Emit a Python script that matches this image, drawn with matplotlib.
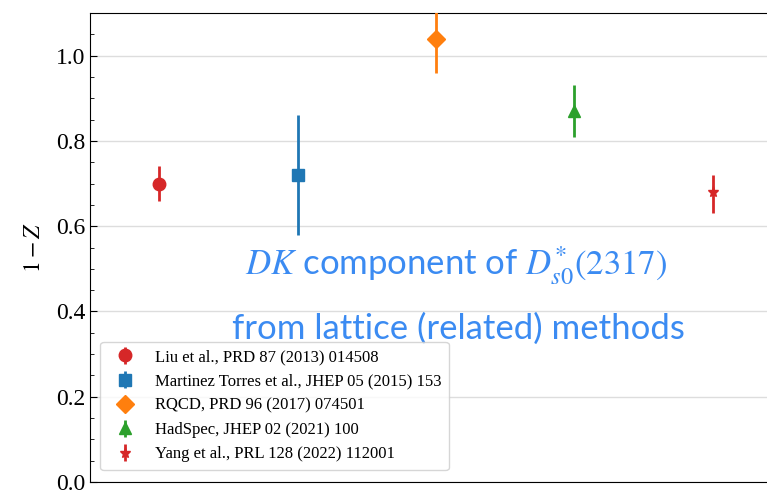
import matplotlib
matplotlib.use("Agg")
import matplotlib.pyplot as plt
from matplotlib.ticker import MultipleLocator

# results for 1 - Z, with lower / upper uncertainties
labels = [
    "Liu et al., PRD 87 (2013) 014508",
    "Martinez Torres et al., JHEP 05 (2015) 153",
    "RQCD, PRD 96 (2017) 074501",
    "HadSpec, JHEP 02 (2021) 100",
    "Yang et al., PRL 128 (2022) 112001",
]
values = [0.70, 0.72, 1.04, 0.87, 0.68]
err_lo = [0.04, 0.14, 0.08, 0.06, 0.05]
err_hi = [0.04, 0.14, 0.08, 0.06, 0.04]
markers = ["o", "s", "D", "^", "*"]
msizes = [9, 8, 9, 8, 8]
colors = ["#d62728", "#1f77b4", "#ff7f0e", "#2ca02c", "#d62728"]

plt.rcParams.update({
    "font.family": "serif",
    "font.serif": ["Liberation Serif", "DejaVu Serif"],
    "mathtext.fontset": "stix",
    "font.size": 17,
})

fig = plt.figure(figsize=(7.67, 4.91), dpi=100)
# the frame runs a little past the right edge of the canvas
ax = fig.add_axes([90 / 767, 9 / 491, 692 / 767, 469 / 491])

for i, (v, lo, hi) in enumerate(zip(values, err_lo, err_hi)):
    ax.errorbar(i, v, yerr=[[lo], [hi]], fmt=markers[i], color=colors[i],
                markersize=msizes[i], elinewidth=2, capsize=0,
                label=labels[i], zorder=3)

ax.set_xlim(-0.5, 4.5)
ax.set_ylim(0, 1.1)
ax.set_xticks([])
ax.yaxis.set_major_locator(MultipleLocator(0.2))
ax.yaxis.set_minor_locator(MultipleLocator(0.05))
ax.tick_params(axis="y", which="both", direction="in", right=False)
ax.tick_params(axis="y", which="major", length=5)
ax.tick_params(axis="y", which="minor", length=3)
ax.grid(axis="y", color="#dddddd", linewidth=1, zorder=0)
ax.set_axisbelow(True)
ax.set_ylabel(r"$1-Z$", fontsize=17, labelpad=8)

ax.legend(loc="lower left", fontsize=12, frameon=True, edgecolor="#cccccc",
          borderpad=0.45, labelspacing=0.5, handletextpad=0.8,
          bbox_to_anchor=(0.003, 0.008))

blue = "#3b8bf2"
ax.text(0.529, 0.462, r"$DK$ component of $D_{s0}^{*}(2317)$", transform=ax.transAxes,
        ha="center", va="center", color=blue, fontsize=25, family="Lato")
ax.text(0.533, 0.327, "from lattice (related) methods", transform=ax.transAxes,
        ha="center", va="center", color=blue, fontsize=25, family="Lato")

fig.savefig("out.png", dpi=100)
